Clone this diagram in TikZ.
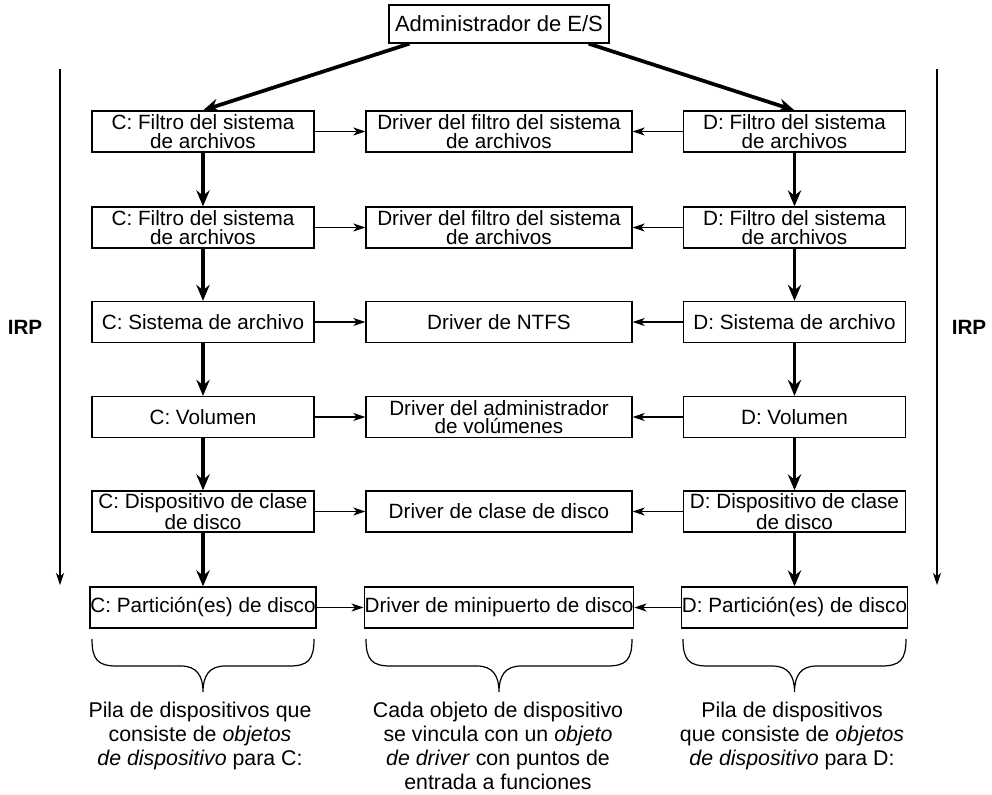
\documentclass[tikz,border=0pt]{standalone}
\usepackage{fontspec}
\setmainfont{Liberation Sans}
\usetikzlibrary{arrows.meta,calc}

\tikzset{every picture/.style={line width=0.9pt},
  caja/.style={draw, line width=1pt, inner sep=0.3pt, align=center, minimum height=30.75pt,
    font=\fontsize{15.5}{14}\selectfont},
  pila/.style={caja, minimum width=166.5pt},
  driver/.style={caja, minimum width=199.5pt},
  gruesa/.style={line width=2.8pt, -{Stealth[length=12pt,width=10pt,inset=4pt]}},
  fina/.style={line width=0.9pt, -{Stealth[length=9pt,width=6pt,inset=2.5pt]}},
  nota/.style={align=center, inner sep=0pt, anchor=north, font=\fontsize{16}{18}\selectfont}
}

\begin{document}
\begin{tikzpicture}[x=0.75pt,y=0.75pt,yscale=-1,xscale=1]
\useasboundingbox (0,0) rectangle (992,794);

%Top box
\node [caja, minimum width=165pt, minimum height=28.5pt, font=\fontsize{16.5}{18}\selectfont] (tope) at (499,24) {Administrador de E/S};

%Left stack
\node [pila] (c1) at (203,131.5) {C: Filtro del sistema\\de archivos};
\node [pila] (c2) at (203,227.5) {C: Filtro del sistema\\de archivos};
\node [pila] (c3) at (203,322) {C: Sistema de archivo};
\node [pila] (c4) at (203,417) {C: Volumen};
\node [pila] (c5) at (203,511.5) {C: Dispositivo de clase\\de disco};
\node [pila] (c6) at (203,607.5) {C: Partición(es) de disco};

%Drivers
\node [driver] (m1) at (499,131.5) {Driver del filtro del sistema\\de archivos};
\node [driver] (m2) at (499,227.5) {Driver del filtro del sistema\\de archivos};
\node [driver] (m3) at (499,322) {Driver de NTFS};
\node [driver] (m4) at (499,417) {Driver del administrador\\de volúmenes};
\node [driver] (m5) at (499,511.5) {Driver de clase de disco};
\node [driver] (m6) at (499,607.5) {Driver de minipuerto de disco};

%Right stack
\node [pila] (d1) at (794.5,131.5) {D: Filtro del sistema\\de archivos};
\node [pila] (d2) at (794.5,227.5) {D: Filtro del sistema\\de archivos};
\node [pila] (d3) at (794.5,322) {D: Sistema de archivo};
\node [pila] (d4) at (794.5,417) {D: Volumen};
\node [pila] (d5) at (794.5,511.5) {D: Dispositivo de clase\\de disco};
\node [pila] (d6) at (794.5,607.5) {D: Partición(es) de disco};

%Top arrows
\draw [gruesa] ($(tope.south west)+(21,0)$) -- (c1.north);
\draw [gruesa] ($(tope.south east)+(-21,0)$) -- (d1.north);

%Stack arrows
\draw [gruesa] (c1) -- (c2);
\draw [gruesa] (c2) -- (c3);
\draw [gruesa] (c3) -- (c4);
\draw [gruesa] (c4) -- (c5);
\draw [gruesa] (c5) -- (c6);
\draw [gruesa] (d1) -- (d2);
\draw [gruesa] (d2) -- (d3);
\draw [gruesa] (d3) -- (d4);
\draw [gruesa] (d4) -- (d5);
\draw [gruesa] (d5) -- (d6);

%Links to drivers
\draw [fina] (c1) -- (m1);
\draw [fina] (c2) -- (m2);
\draw [fina] (c3) -- (m3);
\draw [fina] (c4) -- (m4);
\draw [fina] (c5) -- (m5);
\draw [fina] (c6) -- (m6);
\draw [fina] (d1) -- (m1);
\draw [fina] (d2) -- (m2);
\draw [fina] (d3) -- (m3);
\draw [fina] (d4) -- (m4);
\draw [fina] (d5) -- (m5);
\draw [fina] (d6) -- (m6);

%IRP arrows
\coordinate (irpA) at (60,69);
\coordinate (irpB) at (60,585);
\coordinate (irpC) at (937,69);
\coordinate (irpD) at (937,585);
\draw [fina] (irpA) -- (irpB);
\draw [fina] (irpC) -- (irpD);
\node [font=\fontsize{15.5}{18}\bfseries] (irpizq) at (25,327) {IRP};
\node [font=\fontsize{15.5}{18}\bfseries] (irpder) at (969,327) {IRP};

%Braces
\draw (92,639) .. controls (92,660) and (98,666) .. (117,666) -- (181,666) .. controls (197,666) and (203,676) .. (203,692) .. controls (203,676) and (209,666) .. (225,666) -- (289,666) .. controls (308,666) and (314,660) .. (314,639);
\draw (366,639) .. controls (366,660) and (372,666) .. (391,666) -- (477,666) .. controls (493,666) and (499,676) .. (499,692) .. controls (499,676) and (505,666) .. (521,666) -- (607,666) .. controls (626,666) and (632,660) .. (632,639);
\draw (683,639) .. controls (683,660) and (689,666) .. (708,666) -- (772.5,666) .. controls (788.5,666) and (794.5,676) .. (794.5,692) .. controls (794.5,676) and (800.5,666) .. (816.5,666) -- (881,666) .. controls (900,666) and (906,660) .. (906,639);

%Notes
\node [nota] (notaC) at (200,701) {Pila de dispositivos que\\consiste de \textit{objetos}\\\textit{de dispositivo} para C:};
\node [nota] (notaM) at (498,701) {Cada objeto de dispositivo\\se vincula con un \textit{objeto}\\\textit{de driver} con puntos de\\entrada a funciones};
\node [nota] (notaD) at (792,701) {Pila de dispositivos\\que consiste de \textit{objetos}\\\textit{de dispositivo} para D:};

\end{tikzpicture}
\end{document}
